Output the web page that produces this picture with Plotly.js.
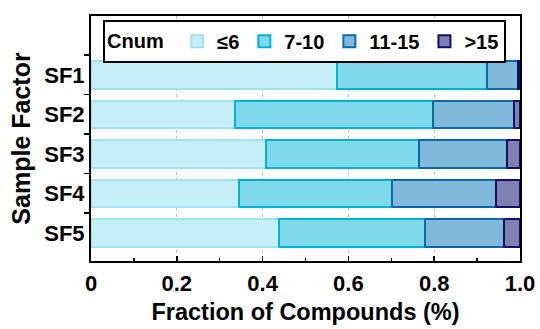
<!DOCTYPE html>
<html>
<head>
<meta charset="utf-8">
<script src="https://cdn.plot.ly/plotly-3.0.1.min.js"></script>
<style>html,body{margin:0;padding:0;background:#fff;}#chart{width:540px;height:329px;}</style>
</head>
<body>
<div id="chart"></div>
<script>
const categories = ["SF1", "SF2", "SF3", "SF4", "SF5"];
const seriesNames = ["≤6", "7-10", "11-15", ">15"];
const le6 = [0.574, 0.335, 0.409, 0.344, 0.438];
const c7to10 = [0.348, 0.463, 0.356, 0.358, 0.340];
const c11to15 = [0.073, 0.189, 0.205, 0.243, 0.184];
const gt15 = [0.005, 0.013, 0.030, 0.055, 0.038];
const xTickVals = [0, 0.2, 0.4, 0.6, 0.8, 1.0];
const xTickText = ["0", "0.2", "0.4", "0.6", "0.8", "1.0"];

const fills = ["#c6eef6", "#80d9ea", "#80b9d9", "#7f7fb0"];
const lines = ["#9fe3f1", "#00b4d8", "#0a6aad", "#101068"];
const values = [le6, c7to10, c11to15, gt15];

const traces = values.map((v, i) => ({
  type: "bar",
  orientation: "h",
  name: seriesNames[i],
  x: v,
  y: categories,
  width: 0.7,
  marker: {color: fills[i], line: {color: lines[i], width: 2}},
  hoverinfo: "skip"
}));

const fam = "Liberation Sans, Arial, sans-serif";
const bold = (size) => ({family: fam, size: size, color: "#000", weight: "bold"});

const layout = {
  width: 540, height: 329,
  margin: {l: 91, r: 20, t: 16, b: 68},
  barmode: "stack",
  paper_bgcolor: "#fff",
  plot_bgcolor: "#fff",
  font: {family: fam, color: "#000"},
  showlegend: true,
  legend: {
    orientation: "h",
    x: 0.028, xanchor: "left",
    y: 0.985, yanchor: "top",
    bgcolor: "#fff",
    bordercolor: "#000",
    borderwidth: 2,
    font: bold(20),
    title: {text: "Cnum\u00a0", side: "left", font: bold(20)},
    traceorder: "normal",
    itemwidth: 30
  },
  xaxis: {
    range: [0, 1.0],
    tickvals: xTickVals,
    ticktext: xTickText,
    ticks: "inside",
    ticklen: 5,
    tickwidth: 1.5,
    tickcolor: "#000",
    minor: {dtick: 0.1, ticks: "inside", ticklen: 3, tickwidth: 1.5, tickcolor: "#000", showgrid: false},
    showgrid: true,
    gridcolor: "#c0c0c0",
    griddash: "dot",
    gridwidth: 1,
    showline: true,
    linecolor: "#000",
    linewidth: 2,
    mirror: true,
    zeroline: false,
    tickfont: bold(22),
    ticklabelstandoff: 2,
    title: {text: "Fraction of Compounds (%)", font: bold(23.5), standoff: 8},
    fixedrange: true
  },
  yaxis: {
    type: "category",
    categoryorder: "array",
    categoryarray: categories,
    range: [4.71, -1.49],
    tickson: "boundaries",
    ticks: "outside",
    ticklen: 5,
    tickwidth: 1.5,
    tickcolor: "#000",
    showgrid: false,
    showline: true,
    linecolor: "#000",
    linewidth: 2,
    mirror: true,
    zeroline: false,
    tickfont: bold(22),
    title: {text: "Sample Factor", font: bold(25), standoff: 6},
    fixedrange: true
  }
};

Plotly.newPlot("chart", traces, layout, {displayModeBar: false, staticPlot: true});
</script>
</body>
</html>
